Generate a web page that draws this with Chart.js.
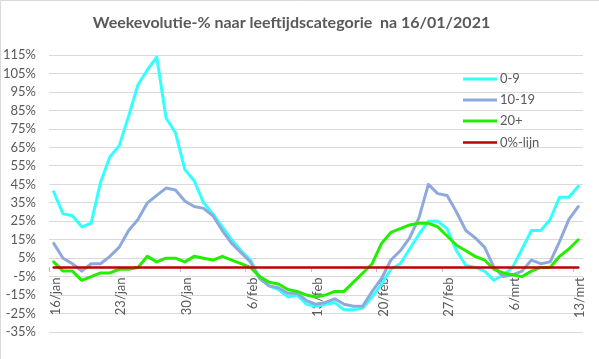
<!DOCTYPE html>
<html>
<head>
<meta charset="utf-8">
<script src="https://cdn.jsdelivr.net/npm/chart.js@4.4.1/dist/chart.umd.min.js"></script>
<style>
  html, body { margin: 0; padding: 0; background: #ffffff; }
  #wrap { width: 599px; height: 359px; position: relative; }
</style>
</head>
<body>
<div id="wrap"><canvas id="c" width="599" height="359"></canvas></div>
<script>
const categories = [
  '16/jan','17/jan','18/jan','19/jan','20/jan','21/jan','22/jan','23/jan','24/jan','25/jan',
  '26/jan','27/jan','28/jan','29/jan','30/jan','31/jan','1/feb','2/feb','3/feb','4/feb',
  '5/feb','6/feb','7/feb','8/feb','9/feb','10/feb','11/feb','12/feb','13/feb','14/feb',
  '15/feb','16/feb','17/feb','18/feb','19/feb','20/feb','21/feb','22/feb','23/feb','24/feb',
  '25/feb','26/feb','27/feb','28/feb','1/mrt','2/mrt','3/mrt','4/mrt','5/mrt','6/mrt',
  '7/mrt','8/mrt','9/mrt','10/mrt','11/mrt','12/mrt','13/mrt'
];
const shownTickLabels = ['16/jan','23/jan','30/jan','6/feb','13/feb','20/feb','27/feb','6/mrt','13/mrt'];
const seriesNames = ['0-9', '10-19', '20+', '0%-lijn'];

const age0_9 = [41, 29, 28, 22, 24, 46, 60, 66, 82, 99, 107, 114, 81, 73, 53, 47, 35, 29, 22, 15,
  9, 4, -6, -10, -12, -16, -15, -20, -21, -20, -19, -23, -23, -22, -16, -9, -1, 2, 10, 18,
  25, 25, 21, 9, 1, 0, -2, -7, -4, 0, 10, 20, 20, 26, 38, 38, 44];
const age10_19 = [13, 5, 2, -2, 2, 2, 6, 11, 20, 26, 35, 39, 43, 42, 36, 33, 32, 28, 20, 13,
  8, 3, -6, -10, -11, -14, -14, -18, -20, -19, -17, -20, -21, -21, -13, -6, 4, 9, 16, 27,
  45, 40, 39, 30, 20, 16, 11, 0, -5, -4, -2, 4, 2, 3, 14, 26, 33];
const age20plus = [3, -2, -2, -7, -5, -3, -3, -1, -1, 0, 6, 3, 5, 5, 3, 6, 5, 4, 6, 4,
  2, 0, -5, -8, -9, -12, -13, -15, -16, -15, -13, -13, -8, -3, 2, 13, 19, 21, 23, 24,
  24, 22, 17, 12, 9, 6, 4, -1, -3, -4, -5, -2, 0, 0, 6, 10, 15];
const zeroLine = [0, 0, 0, 0, 0, 0, 0, 0, 0, 0, 0, 0, 0, 0, 0, 0, 0, 0, 0, 0,
  0, 0, 0, 0, 0, 0, 0, 0, 0, 0, 0, 0, 0, 0, 0, 0, 0, 0, 0, 0,
  0, 0, 0, 0, 0, 0, 0, 0, 0, 0, 0, 0, 0, 0, 0, 0, 0];

const colors = ['#33FFFF', '#8EA9DB', '#22EE00', '#C00000'];
const widths = [3, 3, 3, 2.5];
const textColor = '#595959';
const fontFamily = "Lato, 'Open Sans', 'Liberation Sans', sans-serif";

const frame = {
  id: 'frame',
  beforeDraw(chart) {
    const ctx = chart.ctx;
    ctx.save();
    ctx.fillStyle = '#ffffff';
    ctx.fillRect(0, 0, chart.width, chart.height);
    ctx.strokeStyle = '#D9D9D9';
    ctx.lineWidth = 1;
    ctx.beginPath();
    ctx.moveTo(0.5, chart.height);
    ctx.lineTo(0.5, 0.5);
    ctx.lineTo(chart.width, 0.5);
    ctx.stroke();
    ctx.restore();
  }
};

const customLegend = {
  id: 'customLegend',
  afterDraw(chart) {
    const ctx = chart.ctx;
    const rows = [79, 100, 121, 142.5];
    ctx.save();
    chart.data.datasets.forEach((ds, i) => {
      const y = rows[i];
      ctx.strokeStyle = ds.borderColor;
      ctx.lineWidth = ds.borderWidth;
      ctx.beginPath();
      ctx.moveTo(463, y);
      ctx.lineTo(497, y);
      ctx.stroke();
      ctx.fillStyle = textColor;
      ctx.font = '13px ' + fontFamily;
      ctx.textBaseline = 'middle';
      ctx.textAlign = 'left';
      ctx.fillText(ds.label, 500, y);
    });
    ctx.restore();
  }
};

const seriesData = [age0_9, age10_19, age20plus, zeroLine];
const drawOrder = [4, 3, 2, 1];

new Chart(document.getElementById('c'), {
  type: 'line',
  data: {
    labels: categories,
    datasets: seriesNames.map((name, i) => ({
      label: name,
      data: seriesData[i],
      borderColor: colors[i],
      backgroundColor: colors[i],
      borderWidth: widths[i],
      pointRadius: 0,
      tension: 0,
      fill: false,
      order: drawOrder[i],
      borderCapStyle: 'round',
      borderJoinStyle: 'round'
    }))
  },
  options: {
    responsive: false,
    animation: false,
    devicePixelRatio: 1,
    layout: { padding: { top: 0, left: 0, right: 16, bottom: 27 } },
    plugins: {
      legend: { display: false },
      tooltip: { enabled: false },
      title: {
        display: true,
        text: 'Weekevolutie-% naar leeftijdscategorie  na 16/01/2021',
        color: textColor,
        font: { family: fontFamily, size: 16, weight: 'bold' },
        padding: { top: 13, bottom: 23 }
      }
    },
    scales: {
      x: {
        type: 'category',
        position: { y: 0 },
        offset: true,
        border: { display: false },
        grid: {
          offset: true,
          drawOnChartArea: false,
          drawTicks: true,
          tickLength: 5,
          color: (c) => (c.index % 7 === 0 ? '#BFBFBF' : 'rgba(0,0,0,0)')
        },
        ticks: {
          autoSkip: false,
          minRotation: 90,
          maxRotation: 90,
          padding: 5,
          labelOffset: 2,
          color: textColor,
          font: { family: fontFamily, size: 13 },
          callback: function (value, index) {
            const lab = categories[index];
            return shownTickLabels.includes(lab) ? lab : '';
          }
        }
      },
      y: {
        min: -35,
        max: 115,
        border: { display: false },
        afterFit: (scale) => { scale.width = 49; },
        grid: { color: '#D9D9D9', lineWidth: 1, drawTicks: false },
        ticks: {
          stepSize: 10,
          autoSkip: false,
          padding: 13,
          color: textColor,
          font: { family: fontFamily, size: 13 },
          callback: (v) => v + '%'
        }
      }
    }
  },
  plugins: [frame, customLegend]
});
</script>
</body>
</html>
